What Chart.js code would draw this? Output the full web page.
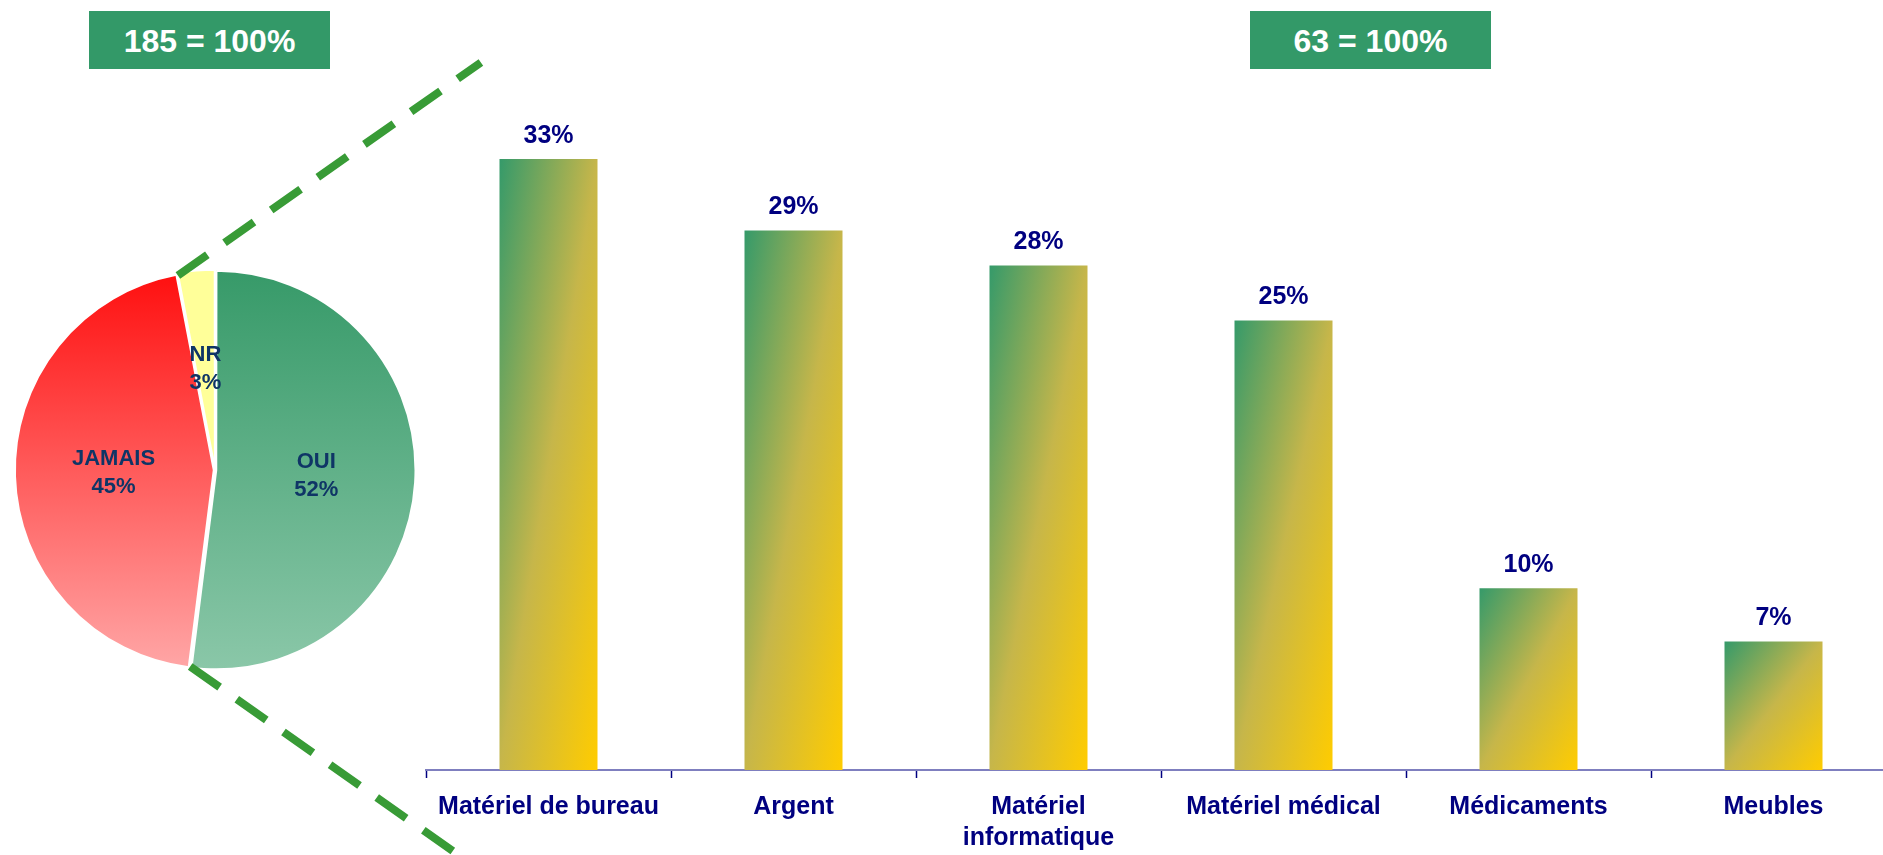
<!DOCTYPE html>
<html>
<head>
<meta charset="utf-8">
<script src="https://cdn.jsdelivr.net/npm/chart.js@4"></script>
<style>
  html, body { margin: 0; padding: 0; background: #ffffff; overflow: hidden; }
  body { width: 1883px; height: 855px; position: relative; }
  canvas { position: absolute; left: 0; top: 0; }
  #barChart { z-index: 1; }
  #pieChart { z-index: 2; }
  .total {
    position: absolute; z-index: 3; top: 11px; width: 241px; height: 58px;
    background: #339968; color: #ffffff; text-align: center;
    font: bold 32px "Liberation Sans", Arial, sans-serif;
    line-height: 60px;
  }
</style>
</head>
<body>
<div class="total" style="left:89px">185 = 100%</div>
<div class="total" style="left:1250px">63 = 100%</div>
<canvas id="barChart" width="1900" height="855"></canvas>
<canvas id="pieChart" width="500" height="855"></canvas>
<script>
// pie : "have you ever ..." 185 answers
const pieLabels = ["OUI", "JAMAIS", "NR"];
const pieValues = [52, 45, 3];

const categories = [
  "Matériel de bureau",
  "Argent",
  ["Matériel", "informatique"],
  "Matériel médical",
  "Médicaments",
  "Meubles",
];
const barValues = [33.3, 29.4, 27.5, 24.5, 9.9, 7.0];

const FONT = "'Liberation Sans', Arial, sans-serif";
const PIE_R = 198;

// vertical gradients for the pie slices
const pieColors = [
  ["#379a69", "#8ac7a8"],
  ["#ff0f0f", "#ffa6a6"],
  ["#ffff99", "#ffff99"],
];

function pieFill(ctx) {
  const c = pieColors[ctx.dataIndex] || pieColors[0];
  const area = ctx.chart.chartArea;
  if (!area) return c[0];
  const cy = (area.top + area.bottom) / 2;
  const g = ctx.chart.ctx.createLinearGradient(0, cy - PIE_R, 0, cy + PIE_R);
  g.addColorStop(0, c[0]);
  g.addColorStop(1, c[1]);
  return g;
}

// names + percents inside the slices
const pieLabelPlugin = {
  id: "pieLabels",
  afterDatasetsDraw(chart) {
    const ctx = chart.ctx;
    const meta = chart.getDatasetMeta(0);
    ctx.save();
    ctx.font = "bold 22px " + FONT;
    ctx.fillStyle = "#0f3566";
    ctx.textAlign = "center";
    ctx.textBaseline = "middle";
    meta.data.forEach((arc, i) => {
      const p = arc.getCenterPoint();
      ctx.fillText(pieLabels[i], p.x, p.y - 14);
      ctx.fillText(pieValues[i] + "%", p.x, p.y + 14);
    });
    ctx.restore();
  }
};

// the two green dashed lines going from the JAMAIS slice edges toward the bars
const zoomLinesPlugin = {
  id: "zoomLines",
  afterDraw(chart) {
    const ctx = chart.ctx;
    const jamais = chart.getDatasetMeta(0).data[1];
    const cx = jamais.x, cy = jamais.y;
    const lines = [
      { a: jamais.endAngle, dx: 303, dy: -213 },
      { a: jamais.startAngle, dx: 303, dy: 213 },
    ];
    ctx.save();
    ctx.strokeStyle = "#389b36";
    ctx.lineWidth = 8;
    ctx.setLineDash([36, 21]);
    lines.forEach(l => {
      const x0 = cx + Math.cos(l.a) * PIE_R;
      const y0 = cy + Math.sin(l.a) * PIE_R;
      ctx.beginPath();
      ctx.moveTo(x0, y0);
      ctx.lineTo(x0 + l.dx, y0 + l.dy);
      ctx.stroke();
    });
    ctx.restore();
  }
};

new Chart(document.getElementById("pieChart"), {
  type: "pie",
  data: {
    labels: pieLabels,
    datasets: [{
      data: pieValues,
      backgroundColor: pieFill,
      borderColor: "#ffffff",
      borderWidth: 2,
      offset: 5,
    }]
  },
  options: {
    responsive: false,
    animation: false,
    radius: PIE_R,
    layout: { padding: { left: 0, right: 70, top: 85, bottom: 0 } },
    plugins: { legend: { display: false }, tooltip: { enabled: false } },
  },
  plugins: [pieLabelPlugin, zoomLinesPlugin],
});

// each bar gets a diagonal green -> gold gradient in its own box
function barFill(ctx) {
  const chart = ctx.chart;
  const i = ctx.dataIndex;
  if (!chart.chartArea || i === undefined) return "#c6b64a";
  const xs = chart.scales.x, ys = chart.scales.y;
  const w = xs.width / categories.length * 0.4;
  const left = xs.getPixelForValue(i) - w / 2;
  const top = ys.getPixelForValue(barValues[i]);
  const h = ys.getPixelForValue(0) - top;
  const k = 2 * w * h / (w * w + h * h);
  const g = chart.ctx.createLinearGradient(left, top, left + h * k, top + w * k);
  g.addColorStop(0, "#359a6a");
  g.addColorStop(0.5, "#c6b64a");
  g.addColorStop(1, "#ffcc00");
  return g;
}

const valueLabelPlugin = {
  id: "valueLabels",
  afterDatasetsDraw(chart) {
    const ctx = chart.ctx;
    ctx.save();
    ctx.font = "bold 25px " + FONT;
    ctx.fillStyle = "#000080";
    ctx.textAlign = "center";
    ctx.textBaseline = "middle";
    chart.getDatasetMeta(0).data.forEach((bar, i) => {
      ctx.fillText(Math.round(barValues[i]) + "%", bar.x, bar.y - 23);
    });
    ctx.restore();
  }
};

new Chart(document.getElementById("barChart"), {
  type: "bar",
  data: {
    labels: categories,
    datasets: [{
      data: barValues,
      backgroundColor: barFill,
      borderWidth: 0,
      barPercentage: 0.5,
      categoryPercentage: 0.8,
    }]
  },
  options: {
    responsive: false,
    animation: false,
    layout: { padding: { left: 426, right: 4, top: 36, bottom: 0 } },
    plugins: { legend: { display: false }, tooltip: { enabled: false } },
    scales: {
      y: { display: false, min: 0, max: 40 },
      x: {
        z: 1,
        offset: true,
        grid: {
          display: true,
          offset: true,
          drawOnChartArea: false,
          drawTicks: true,
          tickLength: 8,
          tickWidth: 1.5,
          tickColor: "#000080",
        },
        border: { display: true, color: "rgba(0,0,128,0.5)", width: 2 },
        ticks: {
          color: "#000080",
          padding: 14,
          maxRotation: 0,
          autoSkip: false,
          font: { family: FONT, size: 25, weight: "bold", lineHeight: 1.24 },
        },
        afterFit: s => { s.height = 85; },
      }
    }
  },
  plugins: [valueLabelPlugin],
});
</script>
</body>
</html>
